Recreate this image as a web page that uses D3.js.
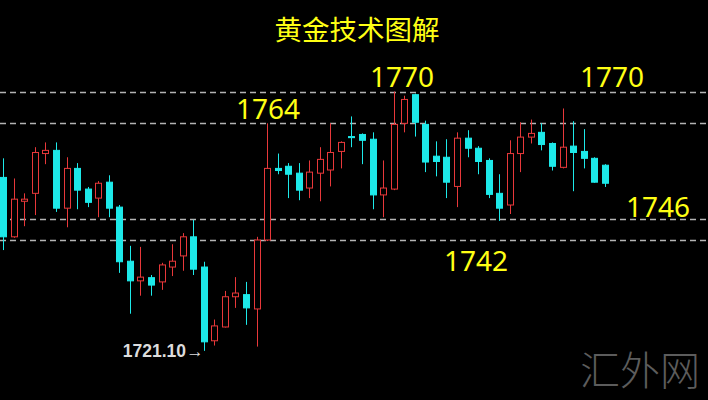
<!DOCTYPE html>
<html>
<head>
<meta charset="utf-8">
<script src="https://cdn.jsdelivr.net/npm/d3@7"></script>
<style>
  html, body { margin: 0; padding: 0; background: #000; }
  svg { display: block; }
</style>
</head>
<body>
<svg id="svg"></svg>
<script>
// candle values
var opens  = [1753.8,1742.6,1749.3,1750.8,1758.3,1758.9,1748.0,1755.5,1751.6,1749.9,
              1752.9,1748.2,1738.0,1734.3,1734.9,1734.1,1736.9,1739.0,1742.6,1736.9,
              1723.0,1725.6,1731.3,1731.7,1729.0,1742.0,1755.5,1755.9,1754.6,1751.8,
              1754.6,1755.2,1758.7,1761.5,1761.9,1761.0,1750.5,1751.6,1764.0,1769.4,
              1763.8,1757.8,1757.6,1752.1,1761.2,1759.3,1757.0,1750.8,1748.6,1758.3,
              1761.4,1762.3,1760.2,1755.7,1759.7,1758.7,1757.4,1756.1];
var highs  = [1757.4,1753.6,1750.8,1759.5,1760.4,1760.4,1757.6,1756.5,1752.0,1753.1,
              1754.2,1748.6,1740.9,1740.7,1735.4,1737.7,1741.2,1743.3,1745.8,1737.9,
              1727.0,1732.4,1735.0,1734.1,1742.6,1764.0,1758.3,1756.5,1756.5,1757.0,
              1759.5,1764.0,1760.6,1765.3,1762.1,1762.3,1757.0,1770.0,1769.2,1769.6,
              1764.5,1760.6,1761.0,1762.3,1762.7,1759.7,1757.4,1754.4,1760.8,1764.2,
              1764.7,1764.0,1760.4,1766.8,1764.4,1762.9,1757.6,1756.3];
var lows   = [1740.1,1742.4,1744.6,1746.7,1756.3,1747.3,1744.4,1747.8,1748.2,1746.3,
              1746.3,1735.8,1728.1,1731.5,1731.5,1732.6,1735.2,1736.2,1735.4,1721.1,
              1722.1,1725.5,1729.2,1726.0,1721.9,1741.8,1754.4,1749.9,1749.5,1749.9,
              1749.3,1752.1,1755.5,1759.5,1756.3,1747.8,1746.3,1751.4,1762.3,1761.5,
              1754.8,1754.0,1749.9,1748.2,1757.6,1754.4,1749.9,1745.6,1746.9,1754.8,
              1760.2,1758.9,1755.1,1755.5,1751.2,1755.5,1752.8,1752.0];
var closes = [1742.6,1749.7,1749.7,1758.5,1758.9,1748.0,1755.5,1751.4,1749.1,1752.7,
              1748.0,1737.9,1734.3,1735.0,1733.5,1737.3,1738.0,1742.6,1736.5,1722.8,
              1725.8,1731.3,1732.0,1729.2,1742.0,1755.5,1755.1,1754.4,1751.4,1754.8,
              1757.2,1758.5,1760.4,1761.3,1760.8,1750.5,1751.8,1763.8,1768.5,1764.2,
              1756.7,1756.8,1752.9,1761.2,1759.3,1756.8,1750.6,1748.0,1758.3,1761.4,
              1762.1,1760.0,1755.9,1759.5,1758.5,1757.4,1752.9,1752.7];

var levels = [1770, 1764, 1746, 1742];
var levelLabels = ['1770', '1770', '1764', '1746', '1742'];
var lowLabel = '1721.10';
var title = '黄金技术图解';
var watermark = '汇外网';

var W = 708, H = 400;
var red = '#e8383a', cyan = '#1de9e9';

var svg = d3.select('#svg').attr('width', W).attr('height', H)
  .attr('viewBox', '0 0 ' + W + ' ' + H);

svg.append('rect').attr('width', W).attr('height', H).attr('fill', '#000');

var idx = d3.range(opens.length);
var x = d3.scaleBand().domain(idx).range([-0.25, 608.25]).paddingInner(0.33);
var y = d3.scaleLinear().domain([1742, 1770]).range([240, 91.5]);
var bw = x.bandwidth();
var cx = function(i) { return Math.round(x(i) + bw / 2) + 0.5; };

// dashed reference lines
svg.append('g').selectAll('line').data(levels).enter().append('line')
  .attr('x1', 0).attr('x2', W)
  .attr('y1', function(d) { return Math.round(y(d)) + 0.5; })
  .attr('y2', function(d) { return Math.round(y(d)) + 0.5; })
  .attr('stroke', '#b4b4b4')
  .attr('stroke-width', 1.3)
  .attr('stroke-dasharray', '6,4');

// candles
var g = svg.append('g');
var candles = g.selectAll('g.candle').data(idx).enter().append('g')
  .attr('class', 'candle');

candles.append('line')
  .attr('x1', cx).attr('x2', cx)
  .attr('y1', function(i) { return y(highs[i]); })
  .attr('y2', function(i) { return y(lows[i]); })
  .attr('stroke', function(i) { return closes[i] >= opens[i] ? red : cyan; })
  .attr('stroke-width', 1);

candles.append('rect')
  .attr('x', function(i) { return cx(i) - 3; })
  .attr('width', 6)
  .attr('y', function(i) { return y(Math.max(opens[i], closes[i])); })
  .attr('height', function(i) { return Math.max(1, Math.abs(y(opens[i]) - y(closes[i]))); })
  .attr('fill', function(i) { return closes[i] >= opens[i] ? '#000' : cyan; })
  .attr('stroke', function(i) { return closes[i] >= opens[i] ? red : cyan; })
  .attr('stroke-width', 1);

// title
svg.append('text')
  .attr('x', 357).attr('y', 40)
  .attr('text-anchor', 'middle')
  .attr('fill', '#ffff14')
  .style('font-family', '"Noto Sans CJK SC", sans-serif')
  .style('font-size', '27.5px')
  .text(title);

// level labels
var labelPos = [
  { x: 402, v: levels[0], dy: -5 },
  { x: 612, v: levels[0], dy: -5 },
  { x: 268, v: levels[1], dy: -4 },
  { x: 658, v: levels[2], dy: -2 },
  { x: 476, v: levels[3], dy: 31 }
];
svg.append('g').selectAll('text').data(labelPos).enter().append('text')
  .attr('x', function(d) { return d.x; })
  .attr('y', function(d) { return y(d.v) + d.dy; })
  .attr('text-anchor', 'middle')
  .attr('fill', '#ffff14')
  .style('font-family', '"Noto Sans", sans-serif')
  .style('font-size', '28px')
  .text(function(d, i) { return levelLabels[i]; });

// lowest price marker
var lowIdx = d3.minIndex(lows);
svg.append('text')
  .attr('x', cx(lowIdx) - 1)
  .attr('y', y(lows[lowIdx]) + 6)
  .attr('text-anchor', 'end')
  .attr('fill', '#dcdcdc')
  .style('font-family', '"Liberation Sans", Arial, sans-serif')
  .style('font-size', '17.5px')
  .style('font-weight', 'bold')
  .text(lowLabel + '\u2192');

// watermark
svg.append('text')
  .attr('x', 640).attr('y', 385)
  .attr('text-anchor', 'middle')
  .attr('fill', '#5c5c5c')
  .style('font-family', '"Noto Sans CJK SC", sans-serif')
  .style('font-size', '40px')
  .style('font-weight', '300')
  .text(watermark);
</script>
</body>
</html>
